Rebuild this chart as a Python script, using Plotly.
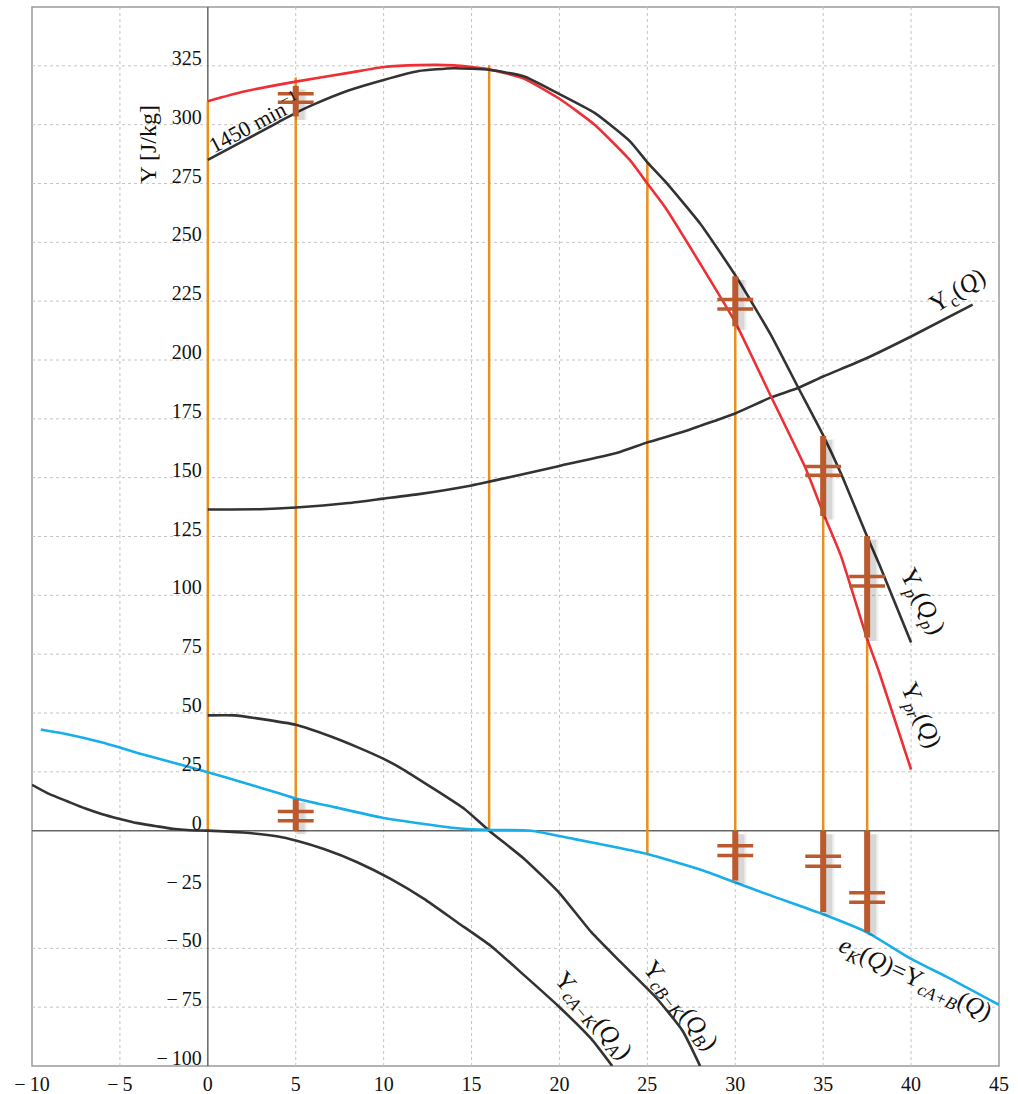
import plotly.graph_objects as go

# ---------------- data ----------------
q_pr = [0, 2, 5, 8, 10, 12, 14, 16, 18, 20, 22, 24, 25, 26, 28, 30, 32, 34, 35, 36, 37.5, 38.2, 40]
y_pr = [310, 314, 318.3, 322, 324.5, 325.3, 325.2, 323.5, 319.5, 311, 300, 285, 275, 265, 241, 216, 185, 154, 135, 117, 81.5, 67, 26]

q_p = [0, 2, 4, 5, 6, 8, 10, 12, 14, 16, 18, 20, 22, 24, 25, 26, 28, 30, 32, 33.6, 35, 36, 37.5, 38.2, 40]
y_p = [285, 293, 301, 305, 308.5, 314.5, 319, 322.8, 324, 323.3, 320.5, 313, 305, 293, 284, 276, 258, 236, 211, 188, 168, 152, 125, 113, 80]

q_c = [0, 3, 5, 8, 10, 12, 15, 17.6, 20, 23.3, 25, 27, 28, 30, 32, 33.6, 35, 37.3, 40, 43.5]
y_c = [136.5, 136.6, 137.3, 139.2, 141.1, 143, 146.7, 150.9, 155, 160.6, 165, 169.4, 172, 177.3, 184, 188.2, 193, 200.2, 210, 223.5]

q_bk = [0, 1.5, 3, 5, 7, 8.5, 10, 11, 12.7, 14.6, 16, 18, 20, 21.8, 23.5, 25.5, 27, 28]
y_bk = [49, 49, 47.5, 45, 40, 35.5, 30.5, 26.5, 18.5, 9.2, 0, -12, -26.5, -43, -56, -71, -85, -100]

q_ak = [-10, -9, -8, -7, -6, -5, -4, -3, -2, -1, 0, 2, 4, 5, 6.6, 8.5, 10.4, 12.3, 14.2, 16.1, 18, 19.9, 21.8, 23]
y_ak = [19.5, 15.5, 12.5, 9.5, 7, 5, 3.2, 2, 0.8, 0.2, 0, -0.8, -2.5, -4.2, -7.8, -13.4, -20.5, -29, -39, -49, -61.5, -74.3, -88.4, -100]

q_ek = [-9.5, -8, -6, -5, -4, -2, 0, 2, 4, 5, 7.2, 9.8, 12.3, 14.2, 16, 18.4, 20.8, 23.5, 25, 28, 30, 32, 35, 37.5, 40, 42, 45]
y_ek = [43, 41, 37.5, 35.3, 33, 29, 24.8, 20.5, 16, 13.7, 10, 5.7, 2.8, 1, 0.3, 0, -3.5, -7.5, -9.9, -16.5, -22, -27.5, -35.5, -43.2, -54.5, -62, -74]

# orange construction lines
q_v = [0, 5, 16, 25, 30, 35, 37.5]
v_lo = [0, 0, 0, -9.9, 0, 0, 0]
v_hi = [310, 320, 325.3, 284, 216, 135, 81.5]

# brown difference bars
q_bar = [5, 30, 35, 37.5]
bar_up_lo = [303.5, 214.3, 133.7, 82.1]
bar_up_hi = [316.5, 235.6, 167.7, 125.2]
bar_dn_lo = [13.5, -21.2, -34.6, -43.1]
bar_dn_hi = [0, 0, 0, 0]
tick_up_a = [313.1, 225.7, 154.7, 108]
tick_up_b = [309.5, 221.7, 151, 104]
tick_dn_a = [8.1, -6.4, -10.9, -26.4]
tick_dn_b = [4.2, -10.6, -15.1, -30.4]

x_ticks = [-10, -5, 0, 5, 10, 15, 20, 25, 30, 35, 40, 45]
y_ticks = [-100, -75, -50, -25, 0, 25, 50, 75, 100, 125, 150, 175, 200, 225, 250, 275, 300, 325]
x_grid = [-5, 5, 10, 15, 20, 25, 30, 35, 40]
y_grid = [-75, -50, 25, 50, 75, 100, 125, 150, 175, 200, 225, 250, 275, 300, 325]

X_RANGE = [-10, 45]
Y_RANGE = [-100, 350]

def lab(v):
    return ("\u2212\u2009" + str(abs(v))) if v < 0 else str(v)

# ---------------- styles ----------------
SERIF = "Liberation Serif"
BLACK = "#333333"
RED = "#EE3036"
BLUE = "#17AEEA"
ORANGE = "#E8901C"
BROWN = "#BA5A2D"

fig = go.Figure()

def seg_xy(xs, lo, hi, dx=0.0, dy=0.0):
    X, Y = [], []
    for x, a, b in zip(xs, lo, hi):
        X += [x + dx, x + dx, None]
        Y += [a + dy, b + dy, None]
    return X, Y

def tick_xy(xs, ys, half=1.02):
    X, Y = [], []
    for x, y in zip(xs, ys):
        X += [x - half, x + half, None]
        Y += [y, y, None]
    return X, Y

# orange verticals
vx, vy = seg_xy(q_v, v_lo, v_hi)
fig.add_trace(go.Scatter(x=vx, y=vy, mode="lines", line=dict(color=ORANGE, width=2.5), hoverinfo="skip"))

# curves
for qx, qy, col in [(q_c, y_c, BLACK), (q_bk, y_bk, BLACK), (q_ak, y_ak, BLACK),
                    (q_pr, y_pr, RED), (q_p, y_p, BLACK), (q_ek, y_ek, BLUE)]:
    fig.add_trace(go.Scatter(x=qx, y=qy, mode="lines",
                             line=dict(color=col, width=2.6, shape="spline", smoothing=0.5)))

# bar shadows (soft, layered)
for lo, hi in [(bar_up_lo, bar_up_hi), (bar_dn_lo, bar_dn_hi)]:
    sx, sy = seg_xy(q_bar, lo, hi, dx=0.28, dy=-1.5)
    for w, a in [(14, 0.03), (11, 0.05), (8, 0.08)]:
        fig.add_trace(go.Scatter(x=sx, y=sy, mode="lines", line=dict(color=f"rgba(0,0,0,{a})", width=w),
                                 hoverinfo="skip"))

# bars
for lo, hi in [(bar_up_lo, bar_up_hi), (bar_dn_lo, bar_dn_hi)]:
    bx, by = seg_xy(q_bar, lo, hi)
    fig.add_trace(go.Scatter(x=bx, y=by, mode="lines", line=dict(color=BROWN, width=6), hoverinfo="skip"))

# double ticks
for ys in [tick_up_a, tick_up_b, tick_dn_a, tick_dn_b]:
    tx, ty = tick_xy(q_bar, ys)
    fig.add_trace(go.Scatter(x=tx, y=ty, mode="lines", line=dict(color=BROWN, width=3.5), hoverinfo="skip"))

# ---------------- grid / axes / frame ----------------
shapes = []
for gx in x_grid:
    shapes.append(dict(type="line", xref="x", yref="y", x0=gx, x1=gx, y0=Y_RANGE[0], y1=Y_RANGE[1],
                       line=dict(color="#C4C4C4", width=1, dash="3px,3px"), layer="below"))
for gy in y_grid:
    shapes.append(dict(type="line", xref="x", yref="y", x0=X_RANGE[0], x1=X_RANGE[1], y0=gy, y1=gy,
                       line=dict(color="#C4C4C4", width=1, dash="3px,3px"), layer="below"))
shapes.append(dict(type="line", xref="x", yref="y", x0=0, x1=0, y0=Y_RANGE[0], y1=Y_RANGE[1],
                   line=dict(color="#666666", width=1.5), layer="below"))
shapes.append(dict(type="line", xref="x", yref="y", x0=X_RANGE[0], x1=X_RANGE[1], y0=0, y1=0,
                   line=dict(color="#666666", width=1.5), layer="below"))
shapes.append(dict(type="rect", xref="paper", yref="paper", x0=0, x1=1, y0=0, y1=1,
                   line=dict(color="#9A9A9A", width=1.5), layer="below"))

# ---------------- labels ----------------
ann = []
def add_label(text, x, y, angle, size=25):
    ann.append(dict(text=text, x=x, y=y, xref="x", yref="y", showarrow=False, textangle=angle,
                    font=dict(family=SERIF, size=size, color="#111111"), xanchor="center", yanchor="middle"))

add_label("Y [J/kg]", -3.41, 291.5, -90, 24)
add_label("1450 min<sup>\u22121</sup>", 2.6, 301, -28, 22)
add_label("Y<sub>c</sub>(<i>Q</i>)", 42.7, 229, -32)
add_label("Y<sub><i>p</i></sub>(<i>Q<sub>p</sub></i>)", 40.6, 97.5, 63)
add_label("Y<sub><i>pr</i></sub>(<i>Q</i>)", 40.5, 49, 67)
add_label("<i>e<sub>K</sub></i>(<i>Q</i>)=Y<sub><i>cA+B</i></sub>(<i>Q</i>)", 40.2, -63.4, 25)
add_label("Y<sub><i>cB\u2212K</i></sub>(<i>Q<sub>B</sub></i>)", 26.8, -74.4, 52)
add_label("Y<sub><i>cA\u2212K</i></sub>(<i>Q<sub>A</sub></i>)", 21.9, -78.8, 50)

fig.update_layout(
    width=1018, height=1094,
    margin=dict(l=32, r=19, t=7, b=28, autoexpand=False),
    paper_bgcolor="white", plot_bgcolor="white",
    showlegend=False,
    shapes=shapes, annotations=ann,
    font=dict(family=SERIF, size=20, color="#111111"),
    xaxis=dict(range=X_RANGE, tickmode="array", tickvals=x_ticks, ticktext=[lab(v) for v in x_ticks],
               showgrid=False, zeroline=False, showline=False, ticks="", ticklabelstandoff=4,
               automargin=False,
               tickfont=dict(family=SERIF, size=20, color="#111111")),
    yaxis=dict(range=Y_RANGE, tickmode="array", tickvals=y_ticks, ticktext=[lab(v) for v in y_ticks],
               showgrid=False, zeroline=False, showline=False, ticks="", automargin=False,
               anchor="free", position=10 / 55, ticklabelshift=-8, ticklabelstandoff=6,
               tickfont=dict(family=SERIF, size=20, color="#111111")),
)

fig.write_html("out.html", config={"displayModeBar": False},
               post_script="document.body.style.margin='0px';document.body.style.overflow='hidden';")
